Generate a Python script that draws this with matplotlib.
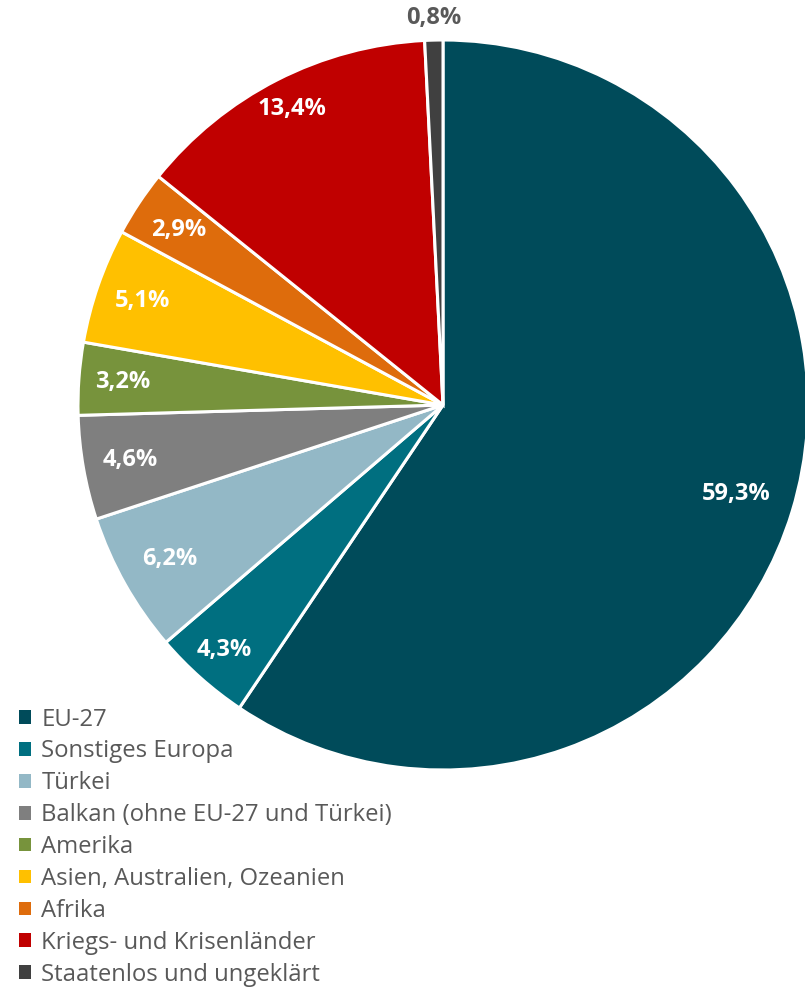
import matplotlib.pyplot as plt
import numpy as np
from matplotlib.patches import Patch

plt.rcParams['font.family'] = ['Open Sans', 'DejaVu Sans']

categories = ['EU-27', 'Sonstiges Europa', 'Türkei', 'Balkan (ohne EU-27 und Türkei)',
              'Amerika', 'Asien, Australien, Ozeanien', 'Afrika',
              'Kriegs- und Krisenländer', 'Staatenlos und ungeklärt']
values = [59.3, 4.3, 6.2, 4.6, 3.2, 5.1, 2.9, 13.4, 0.8]
colors = ['#004B5A', '#006F80', '#93B8C6', '#7F7F7F', '#77933C',
          '#FFC000', '#DE6C0C', '#C00000', '#404040']
# label distance per slice (Excel best fit look)
label_r = [0.84, 0.90, 0.86, 0.87, 0.88, 0.87, 0.87, 0.91, 1.06]

fig = plt.figure(figsize=(8.05, 9.88), dpi=100)
ax = fig.add_axes([78/805, 1 - 770/988, 730/805, 730/988])

wedges, _ = ax.pie(values, colors=colors, startangle=90, counterclock=False,
                   radius=1.0, wedgeprops=dict(edgecolor='white', linewidth=2.2))

for w, v, r in zip(wedges, values, label_r):
    ang = np.deg2rad((w.theta1 + w.theta2) / 2)
    x, y = r * np.cos(ang), r * np.sin(ang)
    col = 'white' if r < 1 else '#595959'
    ax.text(x, y, f'{v:.1f}%'.replace('.', ','), ha='center', va='center',
            color=col, fontsize=17, fontweight='bold')

ax.set_xlim(-1, 1)
ax.set_ylim(-1, 1)
ax.set_aspect('equal')
ax.axis('off')

handles = [Patch(facecolor=c, edgecolor='none') for c in colors]
fig.legend(handles, categories, loc='upper left', bbox_to_anchor=(9/805, 1 - 698/988),
           frameon=False, fontsize=17.2, labelcolor='#595959',
           handlelength=0.5, handleheight=0.5, handletextpad=0.45,
           labelspacing=0.33, borderaxespad=0)

fig.savefig('out.png', dpi=100)
